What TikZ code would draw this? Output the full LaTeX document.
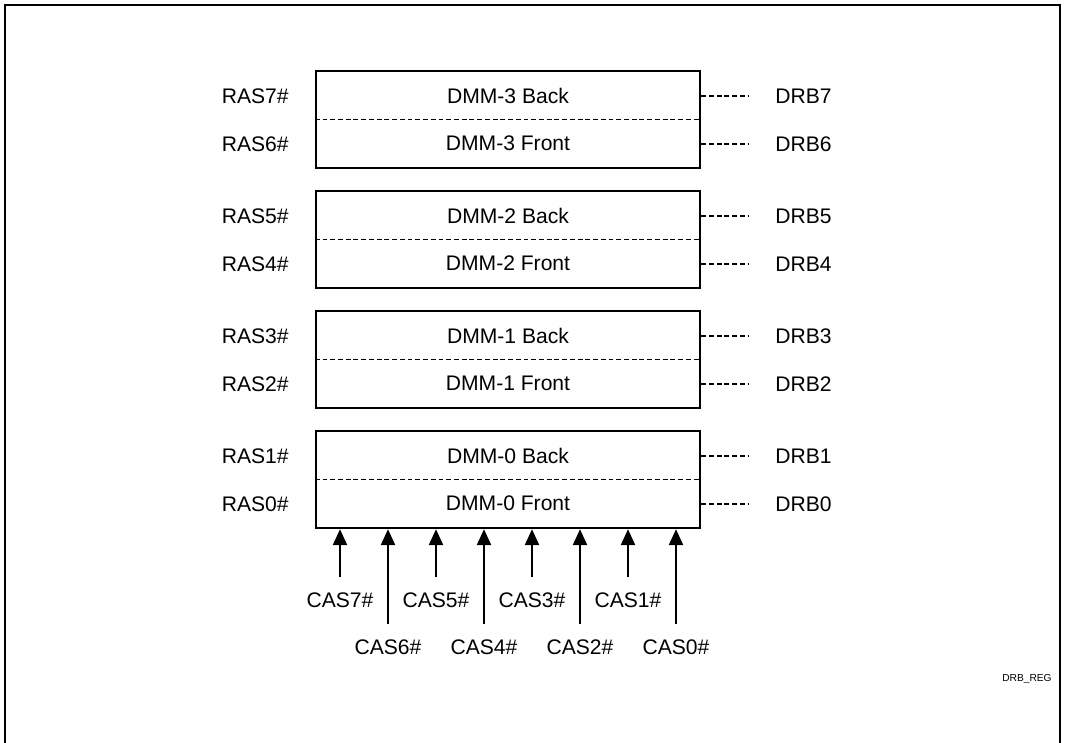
\documentclass[tikz,border=0pt]{standalone}
\usepackage{fontspec}
\setmainfont{Liberation Sans}
\usetikzlibrary{arrows.meta}
\tikzset{
  dimm/.style={draw, line width=1.4pt, minimum width=7.68cm, minimum height=1.94cm, inner sep=0pt},
  sig/.style={font=\fontsize{12}{14}\selectfont, inner sep=0pt},
  divider/.style={dash pattern=on 2.8pt off 1.6pt, line width=0.8pt},
  casarrow/.style={line width=1.1pt, -{Triangle[width=8pt,length=9pt]}}
}
\begin{document}
\begin{tikzpicture}[x=0.02cm,y=-0.02cm]
  \useasboundingbox (0,0) rectangle (1065,743);
  \draw[line width=1.5pt] (5,743) -- (5,5) -- (1060,5) -- (1060,743);
  \foreach \d in {0,1,2,3} {
    \pgfmathtruncatemacro{\nb}{2*\d+1}
    \pgfmathtruncatemacro{\nf}{2*\d}
    \node[dimm] (dmm\d) at (508,{479.5-120*\d}) {};
    \draw[divider] (dmm\d.west) -- (dmm\d.east);
    \node[sig] (back\d) at ([yshift=0.48cm]dmm\d.center) {DMM-\d\ Back};
    \node[sig] (front\d) at ([yshift=-0.48cm]dmm\d.center) {DMM-\d\ Front};
    \node[sig,anchor=east] (ras\nb) at (289,{456-120*\d}) {RAS\nb\#};
    \node[sig,anchor=east] (ras\nf) at (289,{504-120*\d}) {RAS\nf\#};
    \node[sig,anchor=west] (drb\nb) at (775,{456-120*\d}) {DRB\nb};
    \node[sig,anchor=west] (drb\nf) at (775,{504-120*\d}) {DRB\nf};
    \draw[divider] (dmm\d.east |- drb\nb) -- ([xshift=-0.52cm]drb\nb.west);
    \draw[divider] (dmm\d.east |- drb\nf) -- ([xshift=-0.52cm]drb\nf.west);
  }
  \foreach \c in {0,...,7} {
    \pgfmathsetmacro{\cy}{isodd(\c) ? 600 : 647}
    \node[sig] (cas\c) at ({676-48*\c},\cy) {CAS\c\#};
    \draw[casarrow] ([yshift=0.31cm]cas\c.north) -- (cas\c |- dmm0.south);
  }
  \node[font=\fontsize{5.8}{7}\selectfont, inner sep=0pt] (regname) at (1027,679) {DRB\_REG};
\end{tikzpicture}
\end{document}
